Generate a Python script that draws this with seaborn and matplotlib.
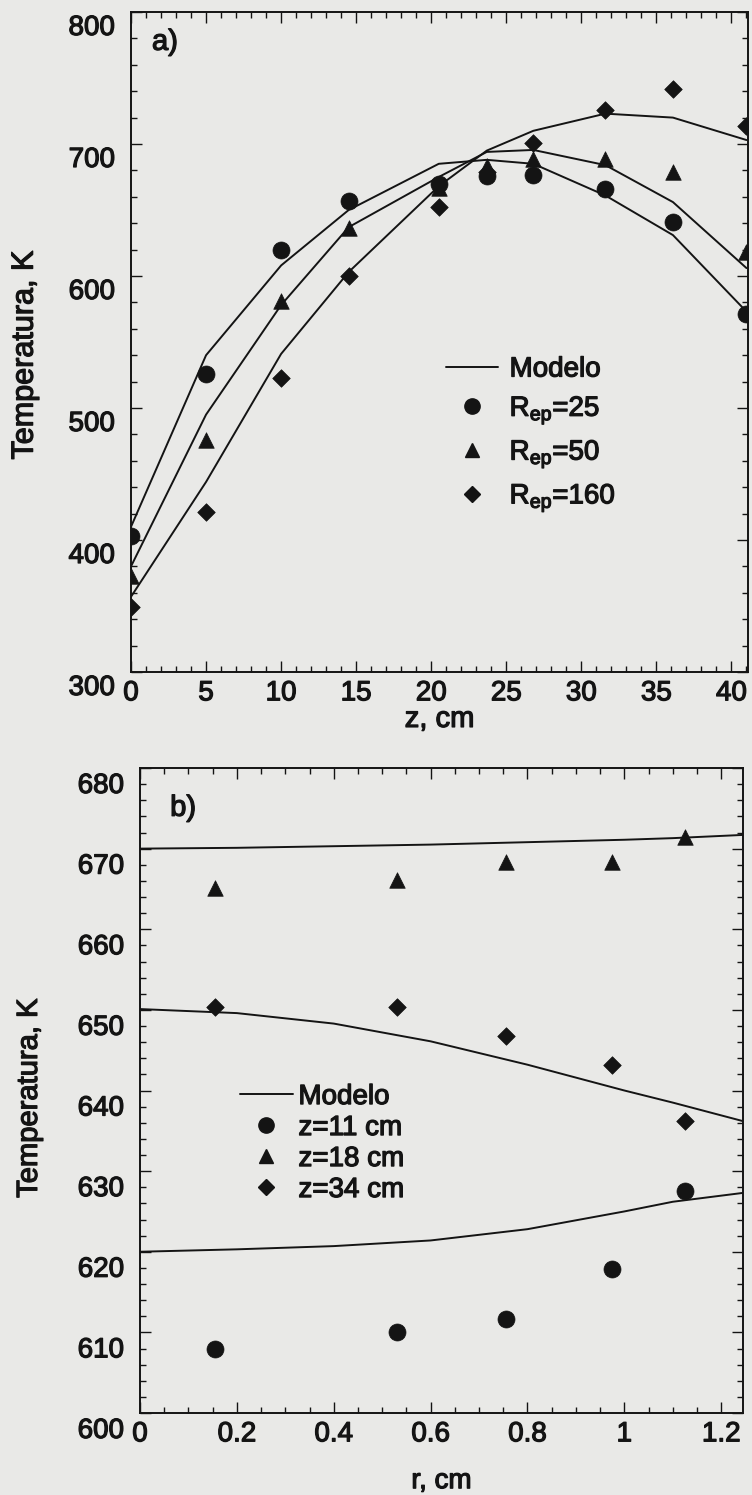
import matplotlib
matplotlib.use("Agg")
import matplotlib.pyplot as plt
import matplotlib.transforms as mtransforms
import matplotlib.patheffects as pe
from matplotlib.text import Text
from matplotlib.lines import Line2D
from matplotlib.ticker import MultipleLocator, FuncFormatter
import seaborn as sns

# ---- a) axial temperature profiles ----
z_cm = [0, 5, 10, 14.5, 20.5, 23.7, 26.8, 31.6, 36.1, 41]
T_rep25 = [403, 526, 620, 657, 670, 676, 676.5, 666, 641, 571]
T_rep50 = [373, 476, 581, 636, 667, 683, 689, 689, 679, 618]
T_rep160 = [349, 421, 523, 600, 652.5, 679, 700.5, 726, 742, 714]

model_rep25 = [410, 540, 608, 650, 685, 688, 685, 661, 631, 573]
model_rep50 = [380, 495, 578, 637, 675, 694, 695.5, 684, 656, 606]
model_rep160 = [357, 444, 541, 603, 668, 695, 710, 723, 720, 703]

labels_a = ["Modelo", r"R$_{\rm ep}$=25", r"R$_{\rm ep}$=50", r"R$_{\rm ep}$=160"]

# ---- b) radial temperature profiles ----
r_cm = [0.155, 0.53, 0.755, 0.975, 1.125]
T_z11 = [608, 610, 611.6, 617.8, 627.5]
T_z18 = [665.1, 666.1, 668.3, 668.4, 671.5]
T_z34 = [650.4, 650.4, 646.7, 643.2, 636.2]

r_model = [0, 0.2, 0.4, 0.6, 0.8, 1.0, 1.1, 1.245]
model_z11 = [620.0, 620.3, 620.7, 621.4, 622.8, 625.0, 626.2, 627.3]
model_z18 = [670.0, 670.1, 670.3, 670.5, 670.8, 671.1, 671.3, 671.7]
model_z34 = [650.1, 649.6, 648.3, 646.1, 643.2, 640.0, 638.5, 636.2]

labels_b = ["Modelo", "z=11 cm", "z=18 cm", "z=34 cm"]

BG = "#e9e9e7"
INK = "#141414"

sns.set_theme(style="ticks")
plt.rcParams.update({
    "font.family": ["Liberation Sans", "DejaVu Sans"],
    "mathtext.fontset": "custom",
    "mathtext.rm": "Liberation Sans",
    "mathtext.it": "Liberation Sans:italic",
    "mathtext.bf": "Liberation Sans:bold",
    "text.color": INK,
    "axes.edgecolor": INK,
    "axes.labelcolor": INK,
    "xtick.color": INK,
    "ytick.color": INK,
})

fig = plt.figure(figsize=(7.52, 14.95), dpi=100, facecolor=BG)
W, H = 752, 1495
ax_a = fig.add_axes([131 / W, 1 - 672 / H, 617 / W, 660 / H])
ax_b = fig.add_axes([140 / W, 1 - 1413 / H, 603 / W, 645 / H])

MS = {"o": 150, "^": 125, "D": 80}


def draw_panel(ax, x_pts, series, x_model, models):
    for y_model in models:
        sns.lineplot(x=x_model, y=y_model, color=INK, linewidth=1.4,
                     sort=False, estimator=None, ax=ax, zorder=2)
    for marker, y_pts in zip(["o", "^", "D"], series):
        sns.scatterplot(x=x_pts, y=y_pts, marker=marker, s=MS[marker],
                        color=INK, edgecolor=INK, linewidth=0.5,
                        legend=False, ax=ax, zorder=3)


def style_axes(ax, label_shift_px):
    ax.set_facecolor(BG)
    for sp in ax.spines.values():
        sp.set_linewidth(1.4)
        sp.set_color(INK)
    ax.tick_params(which="both", direction="in", top=True, right=True,
                   width=1.0, labelsize=20)
    ax.tick_params(which="major", length=8)
    ax.tick_params(which="minor", length=4)
    ax.tick_params(axis="y", pad=11.5)
    ax.tick_params(axis="x", pad=6)
    shift = mtransforms.ScaledTranslation(0, -label_shift_px / 100,
                                          fig.dpi_scale_trans)
    for lbl in ax.get_yticklabels():
        lbl.set_transform(lbl.get_transform() + shift)


def legend_handles(labels):
    hs = [Line2D([], [], color=INK, lw=1.4)]
    for m, ms in zip(["o", "^", "D"], [11, 10, 8]):
        hs.append(Line2D([], [], color=INK, marker=m, ls="none",
                         markersize=ms))
    return hs


# panel a
draw_panel(ax_a, z_cm, [T_rep25, T_rep50, T_rep160], z_cm,
           [model_rep25, model_rep50, model_rep160])
ax_a.set_xlim(0, 41.1)
ax_a.set_ylim(300, 800)
ax_a.xaxis.set_major_locator(MultipleLocator(5))
ax_a.xaxis.set_minor_locator(MultipleLocator(1))
ax_a.yaxis.set_major_locator(MultipleLocator(100))
ax_a.yaxis.set_minor_locator(MultipleLocator(20))
ax_a.set_xlabel("z, cm", fontsize=21, labelpad=-1)
ax_a.set_ylabel("Temperatura, K", fontsize=22)
ax_a.yaxis.set_label_coords(-0.148, 0.48)
style_axes(ax_a, 13)
ax_a.text(0.034, 0.976, "a)", transform=ax_a.transAxes, fontsize=21,
          ha="left", va="top")
ax_a.legend(legend_handles(labels_a), labels_a, loc="upper left",
            bbox_to_anchor=(0.51, 0.478), frameon=False, fontsize=20,
            handlelength=1.9, handletextpad=0.4, labelspacing=0.45,
            borderpad=0, borderaxespad=0)

# panel b
draw_panel(ax_b, r_cm, [T_z11, T_z18, T_z34], r_model,
           [model_z11, model_z18, model_z34])
ax_b.set_xlim(0, 1.245)
ax_b.set_ylim(600, 680)
ax_b.xaxis.set_major_locator(MultipleLocator(0.2))
ax_b.xaxis.set_minor_locator(MultipleLocator(0.05))
ax_b.xaxis.set_major_formatter(FuncFormatter(lambda v, p: f"{v:g}"))
ax_b.yaxis.set_major_locator(MultipleLocator(10))
ax_b.yaxis.set_minor_locator(MultipleLocator(2))
ax_b.set_xlabel("r, cm", fontsize=20, labelpad=15)
ax_b.set_ylabel("Temperatura, K", fontsize=21)
ax_b.yaxis.set_label_coords(-0.161, 0.488)
style_axes(ax_b, 15)
ax_b.text(0.05, 0.96, "b)", transform=ax_b.transAxes, fontsize=21,
          ha="left", va="top")
ax_b.legend(legend_handles(labels_b), labels_b, loc="upper left",
            bbox_to_anchor=(0.166, 0.51), frameon=False, fontsize=20,
            handlelength=1.9, handletextpad=0.2, labelspacing=0.18,
            borderpad=0, borderaxespad=0)

# heavier strokes on all lettering, as in the printed figure
fig.canvas.draw()
for t in fig.findobj(Text):
    if t.get_text():
        t.set_path_effects([pe.withStroke(linewidth=0.9, foreground=INK)])

fig.savefig("out.png", dpi=100, facecolor=BG)
